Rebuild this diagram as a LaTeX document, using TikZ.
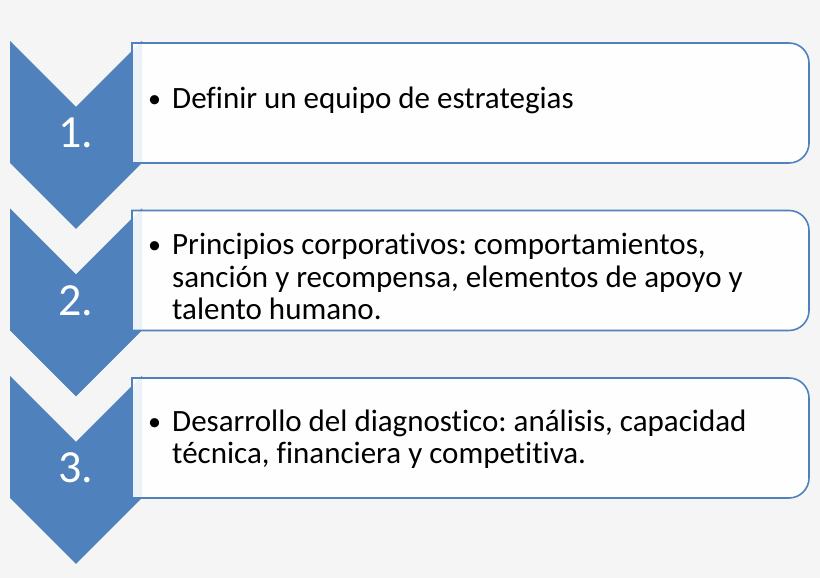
\documentclass[tikz,border=0pt]{standalone}
\usepackage{fontspec}
\setmainfont{Carlito}[Ligatures=NoCommon]
\usepackage{tkz-euclide}
\frenchspacing
\definecolor{StepClr}{RGB}{79,129,189}
\definecolor{BackClr}{RGB}{245,245,245}
\tikzset{
  stepnum/.style={text=white,font=\fontsize{46}{50}\selectfont,anchor=base,inner sep=0pt},
  steptext/.style={text=black,font=\fontsize{31}{32.5}\selectfont,anchor=base west,align=left,inner sep=0pt},
  stepdot/.style={text=black,font=\fontsize{26}{30}\selectfont,anchor=base west,inner sep=0pt},
  stepbox/.style={draw=StepClr,line width=1.6pt,fill=white,fill opacity=.9,draw opacity=1}
}

\begin{document}
\begin{tikzpicture}[x=1pt,y=1pt]
\fill[BackClr] (0,0) rectangle (820,578);
\useasboundingbox (0,0) rectangle (820,578);

\tkzDefPoints{10/537/A,76/471/B,142/537/C,142/415/D,76/349/E,10/415/F}
\tkzDefPoints{10/369.5/G,76/303.5/H,142/369.5/I,142/247.5/J,76/181.5/K,10/247.5/L}
\tkzDefPoints{10/202/M,76/136/N,142/202/O,142/80/P,76/14/Q,10/80/R}

\tkzFillPolygon[fill=StepClr](A,B,C,D,E,F)
\tkzFillPolygon[fill=StepClr](G,H,I,J,K,L)
\tkzFillPolygon[fill=StepClr](M,N,O,P,Q,R)

% cajas
\draw[stepbox] (132,535) -- (789,535) arc[start angle=90,end angle=0,radius=20]
  -- (809,435) arc[start angle=0,end angle=-90,radius=20] -- (132,415) -- cycle;
\draw[stepbox] (132,367.5) -- (789,367.5) arc[start angle=90,end angle=0,radius=20]
  -- (809,267.5) arc[start angle=0,end angle=-90,radius=20] -- (132,247.5) -- cycle;
\draw[stepbox] (132,200) -- (789,200) arc[start angle=90,end angle=0,radius=20]
  -- (809,100) arc[start angle=0,end angle=-90,radius=20] -- (132,80) -- cycle;

\node[stepnum] (n1) at (76,430) {1.};
\node[stepnum] (n2) at (76,262.5) {2.};
\node[stepnum] (n3) at (76,95) {3.};

% el ancla base es la ultima linea
\node[stepdot] (b1) at (148,470) {•};
\node[steptext] (t1) at (172,469) {Definir un equipo de estrategias};

\node[stepdot] (b2) at (148,324) {•};
\node[steptext] (t2) at (172,258) {Principios corporativos: comportamientos,\\
  sanción y recompensa, elementos de apoyo y\\ talento humano.};

\node[stepdot] (b3) at (148,147) {•};
\node[steptext] (t3) at (172,114) {Desarrollo del diagnostico: análisis, capacidad\\
  técnica, financiera y competitiva.};

\end{tikzpicture}
\end{document}
